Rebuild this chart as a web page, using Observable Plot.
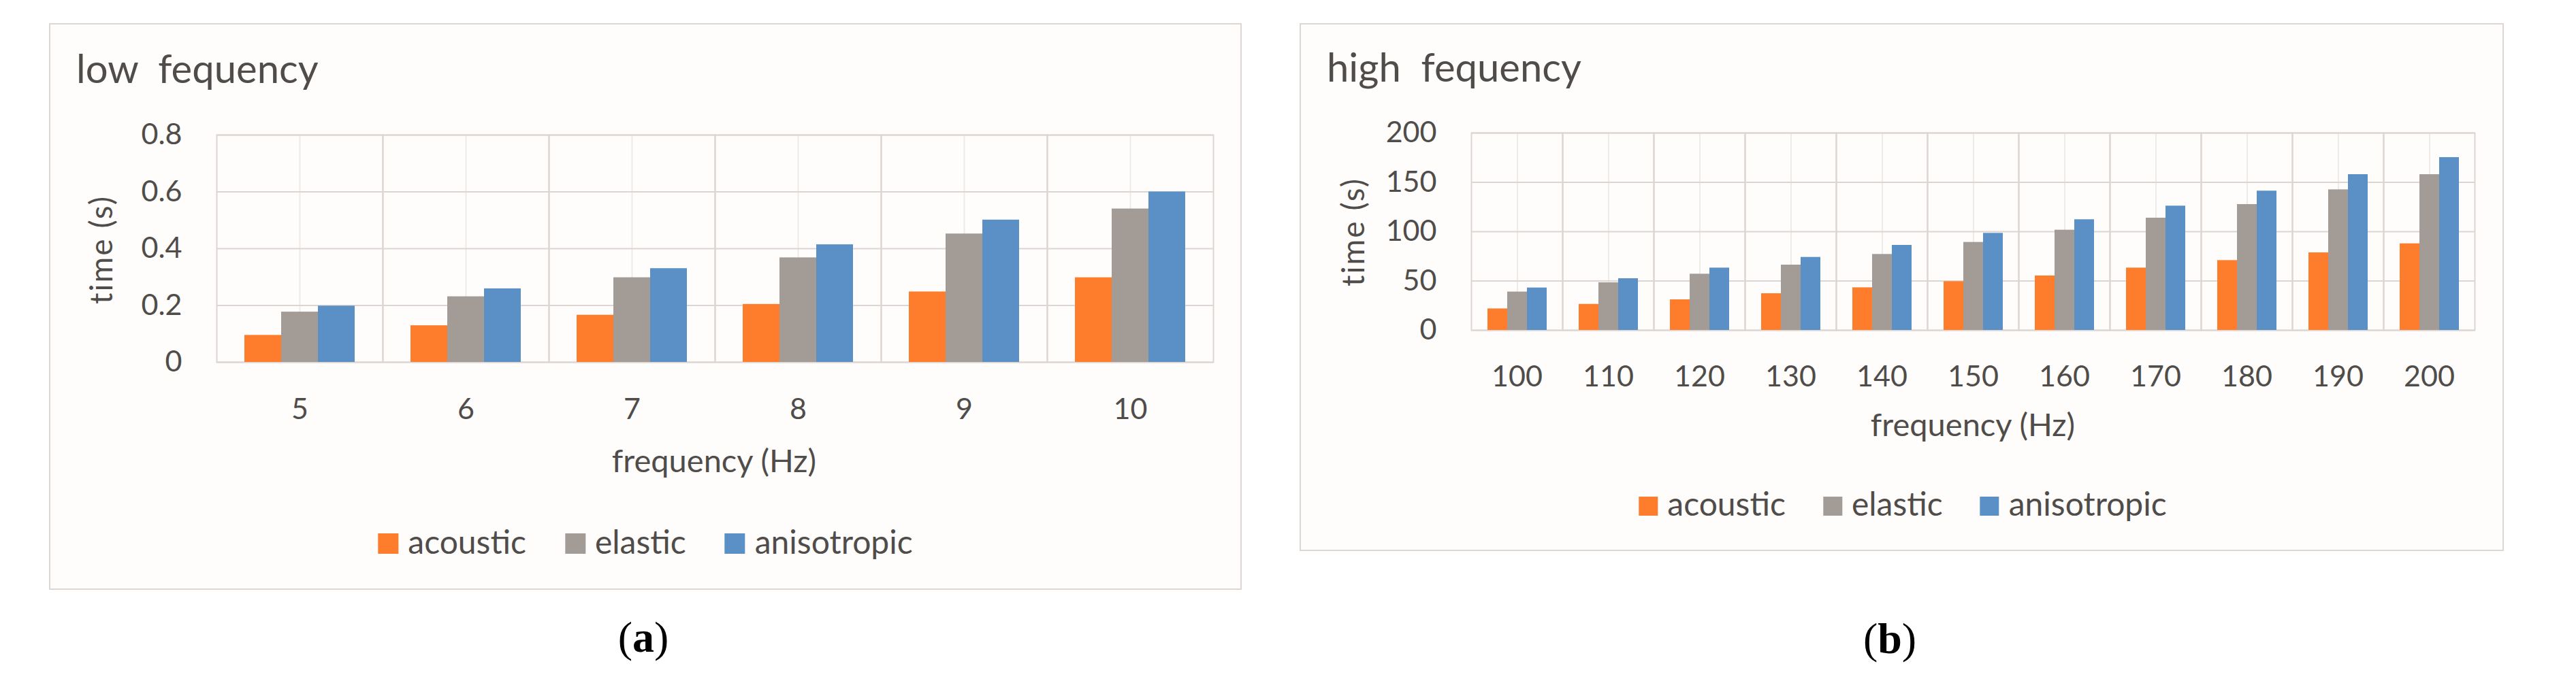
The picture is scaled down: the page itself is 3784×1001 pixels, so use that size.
<!DOCTYPE html>
<html>
<head>
<meta charset="utf-8">
<script src="https://cdn.jsdelivr.net/npm/d3@7"></script>
<script src="https://cdn.jsdelivr.net/npm/@observablehq/plot@0.6"></script>
<style>
  html, body { margin: 0; padding: 0; background: #ffffff; }
  body { width: 3784px; height: 1001px; position: relative; overflow: hidden; font-family: Lato, "Open Sans", sans-serif; color: #4f4c4a; }
  .box { position: absolute; box-sizing: border-box; border: 2px solid #ded6d3; background: #fefdfc; }
  .abs { position: absolute; line-height: 1; white-space: pre; }
  .legend { position: absolute; line-height: 1; white-space: nowrap; transform: translateX(-50%); font-size: 48px; }
  .legend .item { display: inline-block; }
  .legend .sw { display: inline-block; vertical-align: baseline; }
  .ytitle { position: absolute; line-height: 1; white-space: pre; transform: translate(-50%, -50%) rotate(-90deg); font-size: 46px; letter-spacing: 2px; }
  .cap { position: absolute; line-height: 1; white-space: pre; transform: translate(-50%, -50%); font-family: "Liberation Serif", "DejaVu Serif", serif; font-size: 64px; color: #000; }
  .plot { position: absolute; }
</style>
</head>
<body>
<div id="root"></div>
<script>
// ---------- data ----------
const seriesNames = ["acoustic", "elastic", "anisotropic"];
const seriesColors = ["#fe7d2c", "#a29b96", "#5a90c5"];

const lowFreq = [5, 6, 7, 8, 9, 10];
const lowAcoustic = [0.095, 0.129, 0.166, 0.204, 0.248, 0.298];
const lowElastic = [0.177, 0.231, 0.298, 0.368, 0.452, 0.540];
const lowAniso = [0.198, 0.259, 0.330, 0.414, 0.501, 0.600];
const lowTicks = [0, 0.2, 0.4, 0.6, 0.8];

const highFreq = [100, 110, 120, 130, 140, 150, 160, 170, 180, 190, 200];
const highAcoustic = [21.8, 26.4, 31.0, 37.2, 43.2, 49.4, 55.2, 63.2, 70.8, 78.6, 87.8];
const highElastic = [38.9, 48.3, 57.0, 66.2, 77.0, 89.2, 101.6, 113.8, 127.6, 142.5, 157.9];
const highAniso = [43.0, 52.4, 63.2, 74.0, 86.2, 98.4, 112.2, 126.0, 141.2, 157.9, 175.2];
const highTicks = [0, 50, 100, 150, 200];

const titles = ["low  fequency", "high  fequency"];
const xTitle = "frequency (Hz)";
const yTitle = "time (s)";

// ---------- helpers ----------
function rows(freqs, a, e, n) {
  const out = [];
  freqs.forEach((f, i) => {
    out.push({freq: f, series: "acoustic", value: a[i]});
    out.push({freq: f, series: "elastic", value: e[i]});
    out.push({freq: f, series: "anisotropic", value: n[i]});
  });
  return out;
}

const gridColor = "#ddd5d2";
const minorColor = "#eeeae8";
const textColor = "#4f4c4a";

function chart(data, freqs, ticks, yMax, dims) {
  return Plot.plot({
    width: dims.width,
    height: dims.height,
    marginLeft: dims.ml,
    marginRight: dims.mr,
    marginTop: dims.mt,
    marginBottom: dims.mb,
    style: {background: "transparent", fontFamily: "Lato, sans-serif", fontSize: "43px", color: textColor, overflow: "visible"},
    facet: {data: data, x: "freq"},
    fx: {domain: freqs, padding: 0, axis: "bottom", tickSize: 0, tickPadding: dims.fxPad, label: null},
    x: {domain: seriesNames, paddingInner: 0, paddingOuter: 0.75, axis: null},
    y: {domain: [0, yMax], ticks: ticks, tickSize: 0, tickPadding: 51, tickFormat: d => String(d), label: null},
    color: {domain: seriesNames, range: seriesColors},
    marks: [
      Plot.ruleX(["elastic"], {stroke: minorColor, strokeWidth: 2}),
      Plot.ruleY(ticks, {stroke: gridColor, strokeWidth: 2}),
      Plot.frame({stroke: gridColor, strokeWidth: 2}),
      Plot.barY(data, {x: "series", y: "value", fill: "series", inset: 0})
    ]
  });
}

function el(cls, style, text) {
  const d = document.createElement("div");
  d.className = cls;
  Object.assign(d.style, style);
  if (text != null) d.textContent = text;
  document.body.appendChild(d);
  return d;
}

function legend(centerX, baseline, fs, sw, gapIn, gapOut) {
  const d = el("legend", {left: centerX + "px", top: (baseline - 0.887 * fs) + "px", fontSize: fs + "px"});
  seriesNames.forEach((name, i) => {
    const it = document.createElement("span");
    it.className = "item";
    if (i > 0) it.style.marginLeft = gapOut + "px";
    const s = document.createElement("span");
    s.className = "sw";
    s.style.width = sw + "px";
    s.style.height = sw + "px";
    s.style.background = seriesColors[i];
    s.style.marginRight = gapIn + "px";
    it.appendChild(s);
    it.appendChild(document.createTextNode(name));
    d.appendChild(it);
  });
}

// ---------- left panel ----------
el("box", {left: "72px", top: "34px", width: "1752px", height: "833px"});
el("abs", {left: "112px", top: (122 - 0.887 * 58) + "px", fontSize: "58px"}, titles[0]);
const left = chart(rows(lowFreq, lowAcoustic, lowElastic, lowAniso), lowFreq, lowTicks, 0.8,
  {width: 1752, height: 500, ml: 244, mr: 41, mt: 58, mb: 108, fxPad: 53});
left.classList.add("plot");
left.style.left = "72px"; left.style.top = "140px";
document.body.appendChild(left);
el("abs", {left: "1049px", top: (695 - 0.887 * 47) + "px", fontSize: "47px", transform: "translateX(-50%)"}, xTitle);
el("ytitle", {left: "148px", top: "367px"}, yTitle);
legend(948, 815, 48, 30, 14, 57);
el("cap", {left: "945px", top: "937px"}).innerHTML = "(<b>a</b>)";

// ---------- right panel ----------
el("box", {left: "1909px", top: "34px", width: "1769px", height: "776px"});
el("abs", {left: "1949px", top: (120 - 0.887 * 58) + "px", fontSize: "58px"}, titles[1]);
const right = chart(rows(highFreq, highAcoustic, highElastic, highAniso), highFreq, highTicks, 200,
  {width: 1769, height: 460, ml: 249, mr: 40, mt: 55, mb: 115, fxPad: 52});
right.classList.add("plot");
right.style.left = "1909px"; right.style.top = "140px";
document.body.appendChild(right);
el("abs", {left: "2898px", top: (642 - 0.887 * 47) + "px", fontSize: "47px", transform: "translateX(-50%)"}, xTitle);
el("ytitle", {left: "1987px", top: "341px"}, yTitle);
legend(2795, 759, 48, 28, 14, 55);
el("cap", {left: "2776px", top: "939px"}).innerHTML = "(<b>b</b>)";
</script>
</body>
</html>
